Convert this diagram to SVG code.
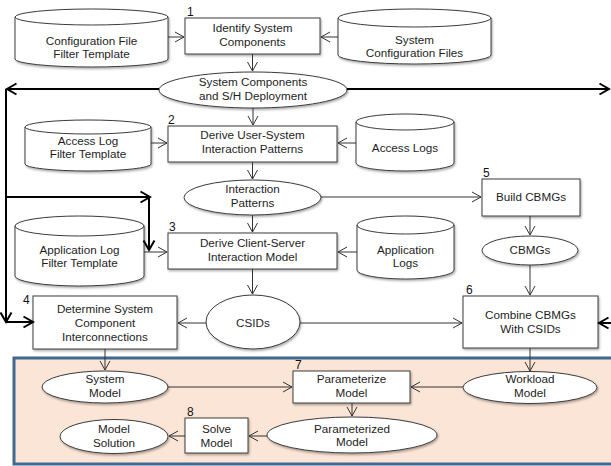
<svg xmlns="http://www.w3.org/2000/svg" width="611" height="466" viewBox="0 0 611 466">
<defs>
<filter id="sh" x="-10%" y="-10%" width="130%" height="140%">
<feDropShadow dx="1" dy="1.5" stdDeviation="0.8" flood-color="#000" flood-opacity="0.35"/>
</filter>
<marker id="a" markerWidth="12" markerHeight="12" refX="10" refY="6" orient="auto" markerUnits="userSpaceOnUse">
<path d="M1,1 L10,6 L1,11" fill="none" stroke="#333" stroke-width="1"/>
</marker>
<marker id="b" markerWidth="14" markerHeight="14" refX="11" refY="7" orient="auto" markerUnits="userSpaceOnUse">
<path d="M1.5,1.5 L11,7 L1.5,12.5" fill="none" stroke="#000" stroke-width="2"/>
</marker>
</defs>
<style>
.s{fill:#fff;stroke:#3c3c3c;stroke-width:1;filter:url(#sh)}
.l{fill:none;stroke:#3c3c3c;stroke-width:1}
text{font-family:"Liberation Sans",Arial,sans-serif;font-size:11.7px;fill:#1e1e1e;text-anchor:middle}
.n{text-anchor:start;font-size:12px;fill:#111}
.c{fill:none;stroke:#333;stroke-width:1;marker-end:url(#a)}
.t{fill:none;stroke:#000;stroke-width:2;marker-end:url(#b)}
</style>
<rect x="14" y="358" width="620" height="106" fill="#fbe5d6" stroke="#41688f" stroke-width="3"/>
<g id="cfgFilter">
<path class="s" d="M15,17 A76.5,8 0 0 1 168,17 L168,59 A76.5,8 0 0 1 15,59 Z"/>
<path class="l" d="M15,17 A76.5,8 0 0 0 168,17"/>
<text x="91.5" y="45">Configuration File</text>
<text x="91.5" y="58">Filter Template</text>
</g>
<g id="step1">
<rect class="s" x="185" y="18" width="135" height="36"/>
<text class="n" x="187" y="16">1</text>
<text x="252.5" y="32">Identify System</text>
<text x="252.5" y="46">Components</text>
</g>
<g id="sysCfg">
<path class="s" d="M338,18 A76.5,9 0 0 1 491,18 L491,55 A76.5,9 0 0 1 338,55 Z"/>
<path class="l" d="M338,18 A76.5,9 0 0 0 491,18"/>
<text x="414.5" y="44">System</text>
<text x="414.5" y="57">Configuration Files</text>
</g>
<g id="sysComp">
<ellipse class="s" cx="253" cy="90" rx="94" ry="18"/>
<text x="253" y="86">System Components</text>
<text x="253" y="100">and S/H Deployment</text>
</g>
<g id="accFilter">
<path class="s" d="M25,127 A63,7 0 0 1 151,127 L151,164 A63,7 0 0 1 25,164 Z"/>
<path class="l" d="M25,127 A63,7 0 0 0 151,127"/>
<text x="88" y="145">Access Log</text>
<text x="88" y="158">Filter Template</text>
</g>
<g id="step2">
<rect class="s" x="168" y="126" width="169" height="36"/>
<text class="n" x="168" y="124">2</text>
<text x="252.5" y="139">Derive User-System</text>
<text x="252.5" y="153">Interaction Patterns</text>
</g>
<g id="accLogs">
<path class="s" d="M356,122 A49,8 0 0 1 454,122 L454,163 A49,8 0 0 1 356,163 Z"/>
<path class="l" d="M356,122 A49,8 0 0 0 454,122"/>
<text x="405" y="152">Access Logs</text>
</g>
<g id="interPat">
<ellipse class="s" cx="252.5" cy="197.5" rx="68.5" ry="17.5"/>
<text x="252.5" y="193">Interaction</text>
<text x="252.5" y="207">Patterns</text>
</g>
<g id="step5">
<rect class="s" x="482" y="179" width="98" height="37"/>
<text class="n" x="483" y="177">5</text>
<text x="531" y="201">Build CBMGs</text>
</g>
<g id="appFilter">
<path class="s" d="M15,226 A64.5,10 0 0 1 144,226 L144,276 A64.5,10 0 0 1 15,276 Z"/>
<path class="l" d="M15,226 A64.5,10 0 0 0 144,226"/>
<text x="79.5" y="254">Application Log</text>
<text x="79.5" y="267">Filter Template</text>
</g>
<g id="step3">
<rect class="s" x="168" y="233" width="169" height="36"/>
<text class="n" x="169" y="231">3</text>
<text x="252.5" y="247">Derive Client-Server</text>
<text x="252.5" y="261">Interaction Model</text>
</g>
<g id="appLogs">
<path class="s" d="M357,225 A48.5,9 0 0 1 454,225 L454,270 A48.5,9 0 0 1 357,270 Z"/>
<path class="l" d="M357,225 A48.5,9 0 0 0 454,225"/>
<text x="405.5" y="254">Application</text>
<text x="405.5" y="267">Logs</text>
</g>
<g id="cbmgs">
<ellipse class="s" cx="530" cy="250.5" rx="48" ry="14.5"/>
<text x="530" y="254">CBMGs</text>
</g>
<g id="step4">
<rect class="s" x="33" y="296" width="144" height="53"/>
<text class="n" x="23" y="304">4</text>
<text x="105" y="313">Determine System</text>
<text x="105" y="327">Component</text>
<text x="105" y="341">Interconnections</text>
</g>
<g id="csids">
<ellipse class="s" cx="253" cy="322" rx="47" ry="27"/>
<text x="253" y="327">CSIDs</text>
</g>
<g id="step6">
<rect class="s" x="463" y="296" width="135" height="52"/>
<text class="n" x="466" y="294">6</text>
<text x="530.5" y="319">Combine CBMGs</text>
<text x="530.5" y="333">With CSIDs</text>
</g>
<g id="sysModel">
<ellipse class="s" cx="105" cy="387" rx="63" ry="16"/>
<text x="105" y="383">System</text>
<text x="105" y="397">Model</text>
</g>
<g id="step7">
<rect class="s" x="293" y="371" width="117" height="32"/>
<text class="n" x="295" y="369">7</text>
<text x="351.5" y="383">Parameterize</text>
<text x="351.5" y="397">Model</text>
</g>
<g id="workload">
<ellipse class="s" cx="530" cy="387.5" rx="67" ry="16"/>
<text x="530" y="383">Workload</text>
<text x="530" y="397">Model</text>
</g>
<g id="paramModel">
<ellipse class="s" cx="352" cy="435" rx="85" ry="18"/>
<text x="352" y="433">Parameterized</text>
<text x="352" y="446">Model</text>
</g>
<g id="step8">
<rect class="s" x="185" y="418" width="63" height="35"/>
<text class="n" x="187" y="416">8</text>
<text x="216.5" y="433">Solve</text>
<text x="216.5" y="447">Model</text>
</g>
<g id="modelSol">
<ellipse class="s" cx="114" cy="436.5" rx="54" ry="17"/>
<text x="114" y="433">Model</text>
<text x="114" y="447">Solution</text>
</g>
<g id="connectors">
<path class="c" d="M168,37 H184"/>
<path class="c" d="M338,37 H321"/>
<path class="c" d="M252.5,54 V71"/>
<path class="c" d="M253,108 V125"/>
<path class="c" d="M151,143 H167"/>
<path class="c" d="M356,143 H338"/>
<path class="c" d="M252.5,162 V179"/>
<path class="c" d="M321,197 H481"/>
<path class="c" d="M530,216 V235"/>
<path class="c" d="M252.5,215 V232"/>
<path class="c" d="M144,252 H167"/>
<path class="c" d="M357,252 H338"/>
<path class="c" d="M252.5,269 V294"/>
<path class="c" d="M530,265 V295"/>
<path class="c" d="M206,323 H178"/>
<path class="c" d="M300,323 H462"/>
<path class="c" d="M105,349 V370"/>
<path class="c" d="M530,348 V371"/>
<path class="c" d="M168,387 H292"/>
<path class="c" d="M463,387 H411"/>
<path class="c" d="M352,403 V416"/>
<path class="c" d="M267,436 H249"/>
<path class="c" d="M185,436 H169"/>
<path class="t" d="M159,89 H7"/>
<path fill="none" stroke="#000" stroke-width="2" d="M6,89 V197"/>
<path class="t" d="M6,197 V322"/>
<path class="t" d="M6,322 H33"/>
<path class="t" d="M6,197 H150"/>
<path class="t" d="M149,197 V250"/>
<path class="t" d="M347,89 H609"/>
<path class="t" d="M612,323 H599"/>
</g>
</svg>
